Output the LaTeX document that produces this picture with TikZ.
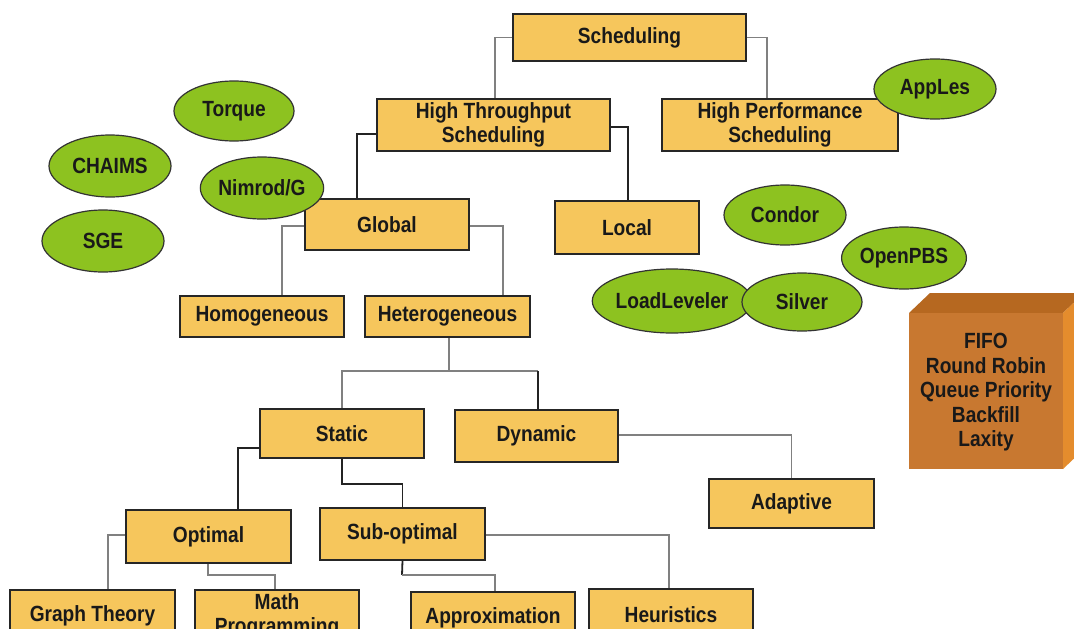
\documentclass[tikz,border=0pt]{standalone}
\usepackage{fontspec}
\setmainfont{Liberation Sans}[FakeStretch=0.87]
\usetikzlibrary{shapes.geometric}
\definecolor{boxfill}{RGB}{246,198,92}
\definecolor{ovalfill}{RGB}{141,194,32}
\definecolor{cubefront}{RGB}{200,120,48}
\definecolor{cubetop}{RGB}{182,104,32}
\definecolor{cubeside}{RGB}{228,140,45}
\definecolor{lightline}{RGB}{128,128,128}
\definecolor{darkline}{RGB}{35,35,35}
\newcommand\diagfont{\fontsize{22}{24.5}\selectfont\bfseries}
\begin{document}
\begin{tikzpicture}[x=1pt,y=-1pt,
  box/.style={draw=black!85, line width=1.5pt, fill=boxfill, inner sep=0pt, align=center, font=\diagfont, text=black!90},
  oval/.style={ellipse, draw=black!80, line width=1.2pt, fill=ovalfill, inner sep=0pt, font=\diagfont, text=black!90},
  lconn/.style={draw=lightline, line width=1.3pt},
  dconn/.style={draw=darkline, line width=1.8pt}]
\useasboundingbox (0,0) rectangle (1074,629);
\fill[white] (0,0) rectangle (1074,629);
\clip (0,0) rectangle (1074,629);

% boxes
\node[box, minimum width=233pt, minimum height=47pt] (sched) at (629.5,37.5) {Scheduling};
\node[box, minimum width=233pt, minimum height=52pt] (ht) at (493.5,125) {High Throughput\\Scheduling};
\node[box, minimum width=236pt, minimum height=52pt] (hp) at (780,125) {High Performance\\Scheduling};
\node[box, minimum width=144pt, minimum height=53pt] (local) at (627,227.5) {Local};
\node[box, minimum width=164pt, minimum height=51pt] (global) at (387,224.5) {Global};
\node[box, minimum width=164pt, minimum height=41pt] (homog) at (262,316.5) {Homogeneous};
\node[box, minimum width=165pt, minimum height=41pt] (heter) at (447.5,316.5) {Heterogeneous};
\node[box, minimum width=164pt, minimum height=49pt] (static) at (342,433.5) {Static};
\node[box, minimum width=163pt, minimum height=52pt] (dynamic) at (536.5,436) {Dynamic};
\node[box, minimum width=165pt, minimum height=49pt] (adaptive) at (791.5,503.5) {Adaptive};
\node[box, minimum width=165pt, minimum height=53pt] (optimal) at (208.5,536.5) {Optimal};
\node[box, minimum width=165pt, minimum height=52pt] (subopt) at (402.5,534) {Sub-optimal};
\node[box, minimum width=165pt, minimum height=52pt] (graph) at (92.5,616) {Graph Theory};
\node[box, minimum width=164pt, minimum height=52pt] (math) at (277,616) {Math\\Programming};
\node[box, minimum width=164pt, minimum height=52pt] (approx) at (493,618) {Approximation};
\node[box, minimum width=164pt, minimum height=52pt] (heur) at (671,615) {Heuristics};

% junction points
\coordinate (hj) at (449,371);
\coordinate (dj) at (538,371);
\coordinate (sj) at (342,484);
\coordinate (oj) at (208,575);
\coordinate (uj) at (402,575);

% connectors
\draw[lconn] (sched.west) -| ([xshift=1.5pt]ht.north);
\draw[lconn] (sched.east) -| ([xshift=-13pt]hp.north);
\draw[dconn] ([yshift=-9pt]ht.west) -| ([xshift=-30pt]global.north);
\draw[dconn] ([yshift=-2pt]ht.east) -| ([xshift=1pt]local.north);
\draw[lconn] ([yshift=-1.5pt]global.west) -| ([xshift=20pt]homog.north);
\draw[lconn] ([yshift=-1.5pt]global.east) -| ([xshift=55.5pt]heter.north);
\draw[lconn] ([xshift=1.5pt]heter.south) -- (hj) -| (static.north);
\draw[lconn] (hj) -- (dj);
\draw[dconn] (dj) -- (dynamic.north -| dj);
\draw[dconn] ([yshift=-14.5pt]static.west) -| ([xshift=29.5pt]optimal.north);
\draw[dconn] (static.south) -- (sj) -| (subopt.north);
\draw[lconn] ([yshift=1pt]dynamic.east) -| (adaptive.north);
\draw[lconn] ([yshift=1.5pt]optimal.west) -| ([xshift=15.5pt]graph.north);
\draw[lconn] ([xshift=-0.5pt]optimal.south) -- (oj) -| ([xshift=-2pt]math.north);
\draw[dconn] (subopt.south) -- (uj);
\draw[lconn] (uj) -| ([xshift=2pt]approx.north);
\draw[lconn] ([yshift=-1pt]subopt.east) -| ([xshift=-2pt]heur.north);

% ovals
\node[oval, minimum width=120pt, minimum height=60pt] (torque) at (234,111) {Torque};
\node[oval, minimum width=122pt, minimum height=62pt] (chaims) at (110,166) {CHAIMS};
\node[oval, minimum width=122pt, minimum height=62pt] (nimrod) at (262,188) {Nimrod/G};
\node[oval, minimum width=122pt, minimum height=62pt] (sge) at (103,241) {SGE};
\node[oval, minimum width=122pt, minimum height=60pt] (apples) at (935,89) {AppLes};
\node[oval, minimum width=122pt, minimum height=60pt] (condor) at (785,215) {Condor};
\node[oval, minimum width=120pt, minimum height=62pt] (openpbs) at (904,258) {OpenPBS};
\node[oval, minimum width=128pt, minimum height=64pt] (loadl) at (672,301) {LoadLeveler};
\node[oval, minimum width=120pt, minimum height=58pt] (silver) at (802,302) {Silver};

% cube
\fill[cubetop] (909,313) -- (930,293) -- (1084,293) -- (1063,313) -- cycle;
\fill[cubeside] (1063,313) -- (1084,293) -- (1084,449) -- (1063,469) -- cycle;
\fill[cubefront] (909,313) rectangle (1063,469);
\node[font=\diagfont, text=black!90, align=center, inner sep=0pt] (policies) at (986,392.5)
  {FIFO\\Round Robin\\Queue Priority\\Backfill\\Laxity};
\end{tikzpicture}
\end{document}
